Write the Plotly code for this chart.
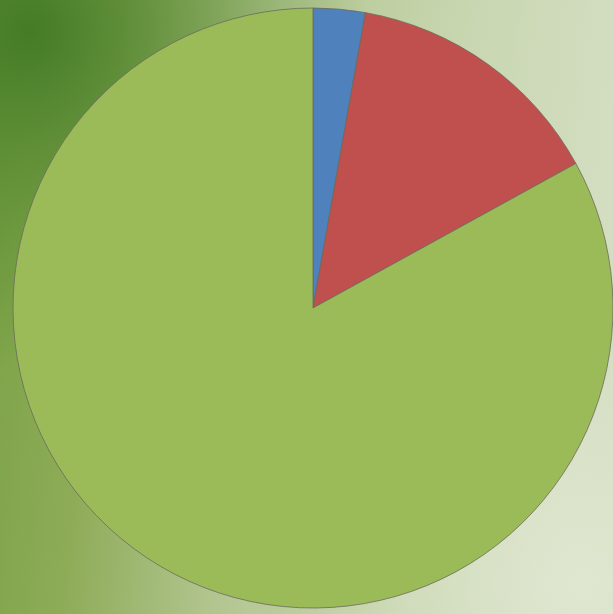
import base64
import plotly.graph_objects as go

labels = ["Category A", "Category B", "Category C"]
values = [2.8, 14.2, 83.0]
colors = ["#4F81BD", "#C0504D", "#9BBB59"]

# textured-looking background approximated with gradients
svg = """<svg xmlns='http://www.w3.org/2000/svg' width='613' height='614' viewBox='0 0 613 614' preserveAspectRatio='none'>
<defs>
<linearGradient id='g' x1='0' y1='0' x2='1' y2='0.1'>
<stop offset='0' stop-color='#7aa245'/>
<stop offset='0.2' stop-color='#8eac58'/>
<stop offset='0.45' stop-color='#b3c691'/>
<stop offset='0.75' stop-color='#c8d6b0'/>
<stop offset='1' stop-color='#d3ddc0'/>
</linearGradient>
<radialGradient id='r' cx='0.05' cy='0.05' r='0.55'>
<stop offset='0' stop-color='#3a7420' stop-opacity='0.85'/>
<stop offset='0.6' stop-color='#4a8228' stop-opacity='0.35'/>
<stop offset='1' stop-color='#4a8228' stop-opacity='0'/>
</radialGradient>
<radialGradient id='w' cx='0.95' cy='0.95' r='0.45'>
<stop offset='0' stop-color='#e2e9d4' stop-opacity='0.8'/>
<stop offset='1' stop-color='#e2e9d4' stop-opacity='0'/>
</radialGradient>
</defs>
<rect width='613' height='614' fill='url(#g)'/>
<rect width='613' height='614' fill='url(#r)'/>
<rect width='613' height='614' fill='url(#w)'/>
</svg>"""
src = "data:image/svg+xml;base64," + base64.b64encode(svg.encode()).decode()

fig = go.Figure(go.Pie(
    labels=labels,
    values=values,
    marker=dict(colors=colors, line=dict(color="#6b6b5a", width=0.8)),
    sort=False,
    direction="clockwise",
    rotation=0,
    textinfo="none",
    hoverinfo="label+percent",
    domain=dict(x=[13/613, 1.0], y=[1 - 609/614, 1 - 7/614]),
    showlegend=False,
))

fig.update_layout(
    width=613, height=614,
    margin=dict(l=0, r=0, t=0, b=0),
    paper_bgcolor="#a4b27a",
    plot_bgcolor="rgba(0,0,0,0)",
    images=[dict(source=src, xref="paper", yref="paper", x=0, y=1,
                 sizex=1, sizey=1, sizing="stretch", xanchor="left",
                 yanchor="top", layer="below")],
    showlegend=False,
)

fig.write_html("out.html",
               config={"displayModeBar": False},
               post_script="document.body.style.margin='0';document.body.style.padding='0';")
